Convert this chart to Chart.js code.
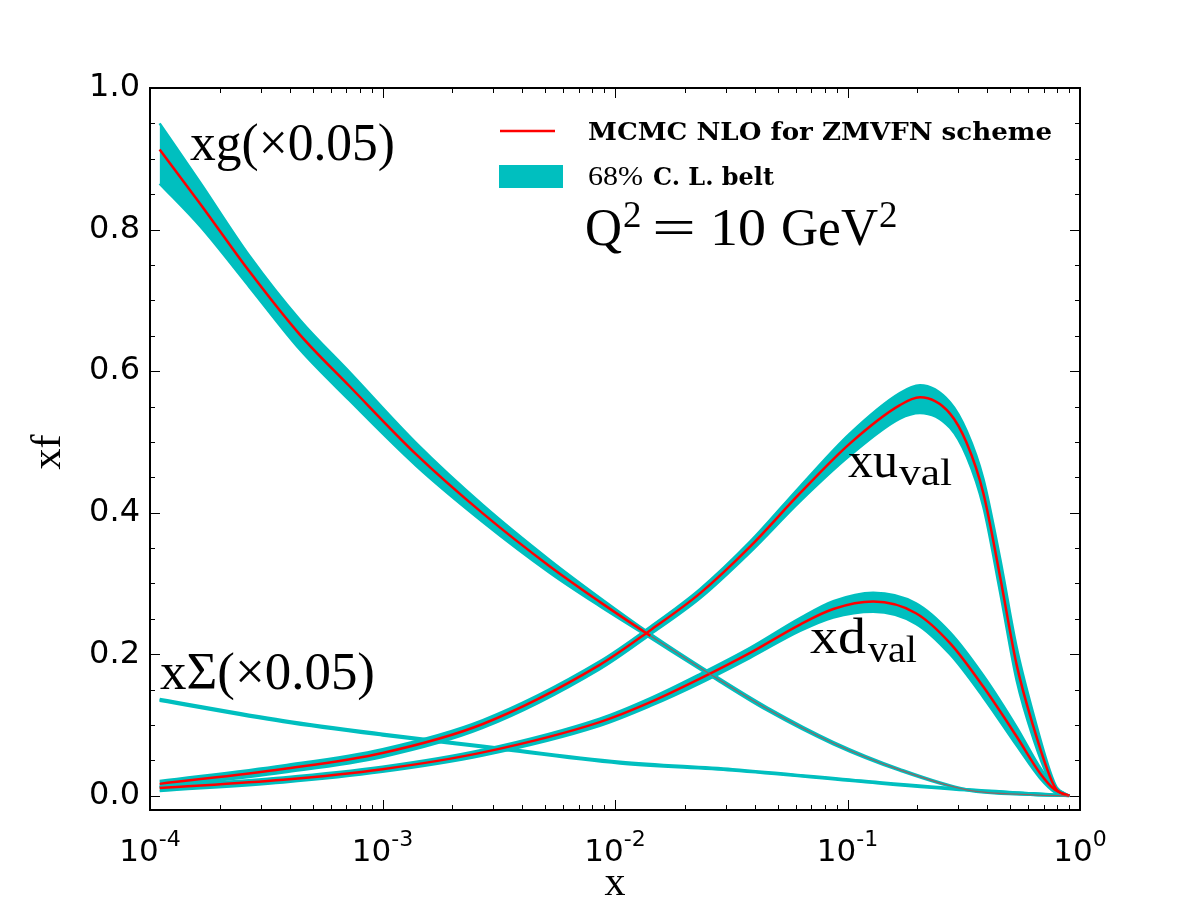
<!DOCTYPE html>
<html><head><meta charset="utf-8">
<script src="https://cdn.jsdelivr.net/npm/chart.js@4.4.0/dist/chart.umd.min.js"></script>
<style>html,body{margin:0;padding:0;background:#fff}#wrap{width:1200px;height:900px;position:relative}</style>
</head><body><div id="wrap"><canvas id="c" width="1200" height="900"></canvas></div>
<script>
// ---- data ----
// xg (x0.05)
const gX   = [1.1e-4, 1.64e-4, 2.69e-4, 4.4e-4, 7.2e-4, 1.4e-3, 2.7e-3, 5.25e-3, 8.6e-3, 0.0142, 0.0265, 0.045, 0.087, 0.168, 0.326, 0.63, 0.9];
const gMid = [0.913, 0.837, 0.740, 0.652, 0.579, 0.482, 0.399, 0.324, 0.274, 0.226, 0.169, 0.123, 0.0744, 0.0367, 0.0085, 0.0014, 0];
const gHi  = [0.950, 0.867, 0.762, 0.673, 0.599, 0.498, 0.411, 0.333, 0.280, 0.229, 0.171, 0.125, 0.0759, 0.0377, 0.009, 0.0015, 0];
const gLo  = [0.865, 0.805, 0.718, 0.631, 0.559, 0.466, 0.387, 0.315, 0.268, 0.223, 0.167, 0.121, 0.0729, 0.0357, 0.008, 0.0013, 0];
// xu_val
const uX   = [1.1e-4, 3.74e-4, 1e-3, 2.7e-3, 8.6e-3, 0.0142, 0.0232, 0.0381, 0.0625, 0.1026, 0.168, 0.205, 0.276, 0.326, 0.384, 0.453, 0.534, 0.63, 0.743, 0.794, 0.9];
const uMid = [0.0169, 0.038, 0.0606, 0.1015, 0.185, 0.234, 0.286, 0.352, 0.4275, 0.498, 0.552, 0.563, 0.540, 0.498, 0.4275, 0.310, 0.185, 0.098, 0.027, 0.0085, 0];
const uHi  = [0.021, 0.043, 0.066, 0.107, 0.190, 0.239, 0.292, 0.359, 0.437, 0.512, 0.569, 0.580, 0.556, 0.515, 0.448, 0.336, 0.210, 0.116, 0.035, 0.012, 0];
const uLo  = [0.012, 0.033, 0.055, 0.096, 0.179, 0.228, 0.279, 0.344, 0.416, 0.481, 0.533, 0.541, 0.520, 0.479, 0.408, 0.288, 0.163, 0.081, 0.020, 0.005, 0];
// xd_val
const dX   = [1.1e-4, 3.74e-4, 1e-3, 2.7e-3, 8.6e-3, 0.0142, 0.0232, 0.0381, 0.0625, 0.0869, 0.129, 0.197, 0.276, 0.384, 0.534, 0.673, 0.78, 0.9];
const dMid = [0.011, 0.0227, 0.0377, 0.0614, 0.1042, 0.1324, 0.1656, 0.202, 0.242, 0.264, 0.2745, 0.258, 0.2157, 0.154, 0.0838, 0.032, 0.0085, 0];
const dHi  = [0.014, 0.026, 0.041, 0.065, 0.109, 0.138, 0.172, 0.209, 0.251, 0.275, 0.287, 0.272, 0.231, 0.170, 0.097, 0.040, 0.012, 0];
const dLo  = [0.007, 0.019, 0.034, 0.057, 0.099, 0.127, 0.159, 0.195, 0.233, 0.252, 0.260, 0.243, 0.200, 0.139, 0.071, 0.025, 0.005, 0];
// xSigma (x0.05)
const sX   = [1.1e-4, 3.74e-4, 1e-3, 2.7e-3, 0.0105, 0.032, 0.12, 0.326, 0.63, 0.9];
const sHi  = [0.1365, 0.1065, 0.0875, 0.0705, 0.0478, 0.0373, 0.0205, 0.0089, 0.0032, 0];
const sLo  = [0.1347, 0.1047, 0.0857, 0.0689, 0.0462, 0.0361, 0.0195, 0.0081, 0.0028, 0];

const yTicks = [0, 0.2, 0.4, 0.6, 0.8, 1.0];
const xDecades = [-4, -3, -2, -1, 0];

const CYAN = '#00bfbf', RED = '#ff0000';
const pts = (xs, ys) => xs.map((x, i) => ({x: x, y: ys[i]}));

function bandSets(xs, hi, lo, ord, bw) {
  return [
    {data: pts(xs, hi), borderColor: CYAN, backgroundColor: CYAN, borderWidth: bw, fill: '+1', order: ord},
    {data: pts(xs, lo), borderColor: CYAN, backgroundColor: CYAN, borderWidth: bw, fill: false, order: ord}
  ];
}
function midSet(xs, mid, fadeFrom) {
  const ds = {data: pts(xs, mid), borderColor: RED, borderWidth: 2.5, fill: false, order: 0};
  if (fadeFrom) {
    ds.segment = {
      borderColor: c => c.p0.parsed.x >= fadeFrom ? 'rgba(190,70,70,0.75)' : undefined,
      borderWidth: c => c.p0.parsed.x >= fadeFrom ? 1.2 : undefined
    };
  }
  return ds;
}

const datasets = [
  ...bandSets(sX, sHi, sLo, 5, 3),
  ...bandSets(gX, gHi, gLo, 4, 2.5),
  ...bandSets(dX, dHi, dLo, 3, 2.5),
  ...bandSets(uX, uHi, uLo, 2, 2.5),
  midSet(gX, gMid, 0.0142), midSet(uX, uMid), midSet(dX, dMid)
];

const SERIF = '"Liberation Serif", "DejaVu Serif", serif';
const BSERIF = '"DejaVu Serif", "Liberation Serif", serif';
const SANS = '"DejaVu Sans", sans-serif';

function txt(ctx, t, x, y, font, targetW) {
  ctx.font = font;
  ctx.save();
  ctx.translate(x, y);
  if (targetW) { const w = ctx.measureText(t).width; ctx.scale(targetW / w, 1); }
  ctx.fillText(t, 0, 0);
  ctx.restore();
}

const decor = {
  id: 'decor',
  afterDraw(chart) {
    const ctx = chart.ctx;
    const {left, right, top, bottom} = chart.chartArea;
    const xs = chart.scales.x, ys = chart.scales.y;
    ctx.save();
    ctx.strokeStyle = '#000';
    ctx.lineWidth = 1;
    for (let i = 0; i <= 20; i++) {
      const v = i * 0.05;
      const py = Math.round(ys.getPixelForValue(v)) + 0.5;
      const len = (i % 4 === 0) ? 10 : 5;
      ctx.beginPath();
      ctx.moveTo(left, py); ctx.lineTo(left + len, py);
      ctx.moveTo(right, py); ctx.lineTo(right - len, py);
      ctx.stroke();
    }
    for (const e of xDecades) {
      const px = Math.round(xs.getPixelForValue(Math.pow(10, e))) + 0.5;
      ctx.beginPath();
      ctx.moveTo(px, bottom); ctx.lineTo(px, bottom - 10);
      ctx.moveTo(px, top); ctx.lineTo(px, top + 10);
      ctx.stroke();
      if (e < 0) {
        for (let k = 2; k <= 9; k++) {
          const qx = Math.round(xs.getPixelForValue(k * Math.pow(10, e))) + 0.5;
          ctx.beginPath();
          ctx.moveTo(qx, bottom); ctx.lineTo(qx, bottom - 5);
          ctx.moveTo(qx, top); ctx.lineTo(qx, top + 5);
          ctx.stroke();
        }
      }
    }
    ctx.lineWidth = 2;
    ctx.strokeRect(left, top, right - left, bottom - top);
    // x tick labels 10^e
    ctx.fillStyle = '#000';
    ctx.textBaseline = 'alphabetic';
    ctx.textAlign = 'left';
    for (const e of xDecades) {
      const px = xs.getPixelForValue(Math.pow(10, e));
      const base = '10', sup = (e === 0 ? '0' : '-' + Math.abs(e));
      ctx.font = '31px ' + SANS;
      const w1 = ctx.measureText(base).width;
      ctx.font = '22px ' + SANS;
      const w2 = ctx.measureText(sup).width;
      const x0 = px - (w1 + w2) / 2;
      txt(ctx, base, x0, 861, '31px ' + SANS);
      txt(ctx, sup, x0 + w1, 846, '22px ' + SANS);
    }
    // axis titles
    ctx.textAlign = 'center';
    txt(ctx, 'x', 615, 895, '42px ' + SERIF);
    ctx.save();
    ctx.translate(60, 452);
    ctx.rotate(-Math.PI / 2);
    ctx.font = '42px ' + SERIF;
    ctx.fillText('xf', 0, 0);
    ctx.restore();
    ctx.textAlign = 'left';
    // curve annotations
    const big = '52px ' + SERIF;
    txt(ctx, 'xg(×0.05)', 190, 160, big, 205);
    txt(ctx, 'xΣ(×0.05)', 160, 689, big, 215);
    txt(ctx, 'xu', 848, 477, '51px ' + SERIF, 50);
    txt(ctx, 'val', 899, 485, '37px ' + SERIF, 53);
    txt(ctx, 'xd', 810, 653, '51px ' + SERIF, 56);
    txt(ctx, 'val', 868, 662, '37px ' + SERIF, 49);
    // legend
    ctx.strokeStyle = RED; ctx.lineWidth = 2.5;
    ctx.beginPath(); ctx.moveTo(500, 131); ctx.lineTo(555, 131); ctx.stroke();
    ctx.fillStyle = CYAN; ctx.fillRect(499, 165, 64, 23);
    ctx.fillStyle = '#000';
    txt(ctx, 'MCMC NLO for ZMVFN scheme', 588, 140, 'bold 24px ' + BSERIF, 464);
    txt(ctx, '68%', 588, 185, '27px ' + SERIF, 55);
    txt(ctx, 'C. L. belt', 653, 185, 'bold 24px ' + BSERIF, 121);
    // Q^2 = 10 GeV^2
    txt(ctx, 'Q', 585, 245, '53px ' + SERIF, 37);
    txt(ctx, '2', 623, 227, '37px ' + SERIF);
    txt(ctx, '=', 652, 245, '53px ' + SERIF, 44);
    txt(ctx, '10', 710, 245, '53px ' + SERIF, 56);
    txt(ctx, 'GeV', 781, 245, '53px ' + SERIF, 97);
    txt(ctx, '2', 879, 227, '37px ' + SERIF);
    ctx.restore();
  }
};

new Chart(document.getElementById('c'), {
  type: 'line',
  data: {datasets: datasets},
  options: {
    responsive: false,
    animation: false,
    devicePixelRatio: 1,
    layout: {padding: {left: 0, top: 88, right: 120, bottom: 0}},
    elements: {point: {radius: 0}, line: {cubicInterpolationMode: 'monotone'}},
    plugins: {legend: {display: false}, tooltip: {enabled: false}},
    scales: {
      x: {
        type: 'logarithmic', min: 1e-4, max: 1,
        grid: {display: false, drawTicks: false}, border: {display: false},
        ticks: {display: false},
        afterFit: s => { s.height = 90; }
      },
      y: {
        type: 'linear', min: -0.02, max: 1.0,
        grid: {display: false, drawTicks: false}, border: {display: false},
        afterBuildTicks: s => { s.ticks = yTicks.map(v => ({value: v})); },
        ticks: {color: '#000', padding: 10, font: {family: 'DejaVu Sans', size: 32},
                callback: v => Number(v).toFixed(1)},
        afterFit: s => { s.width = 150; }
      }
    }
  },
  plugins: [decor]
});
</script>
</body></html>
